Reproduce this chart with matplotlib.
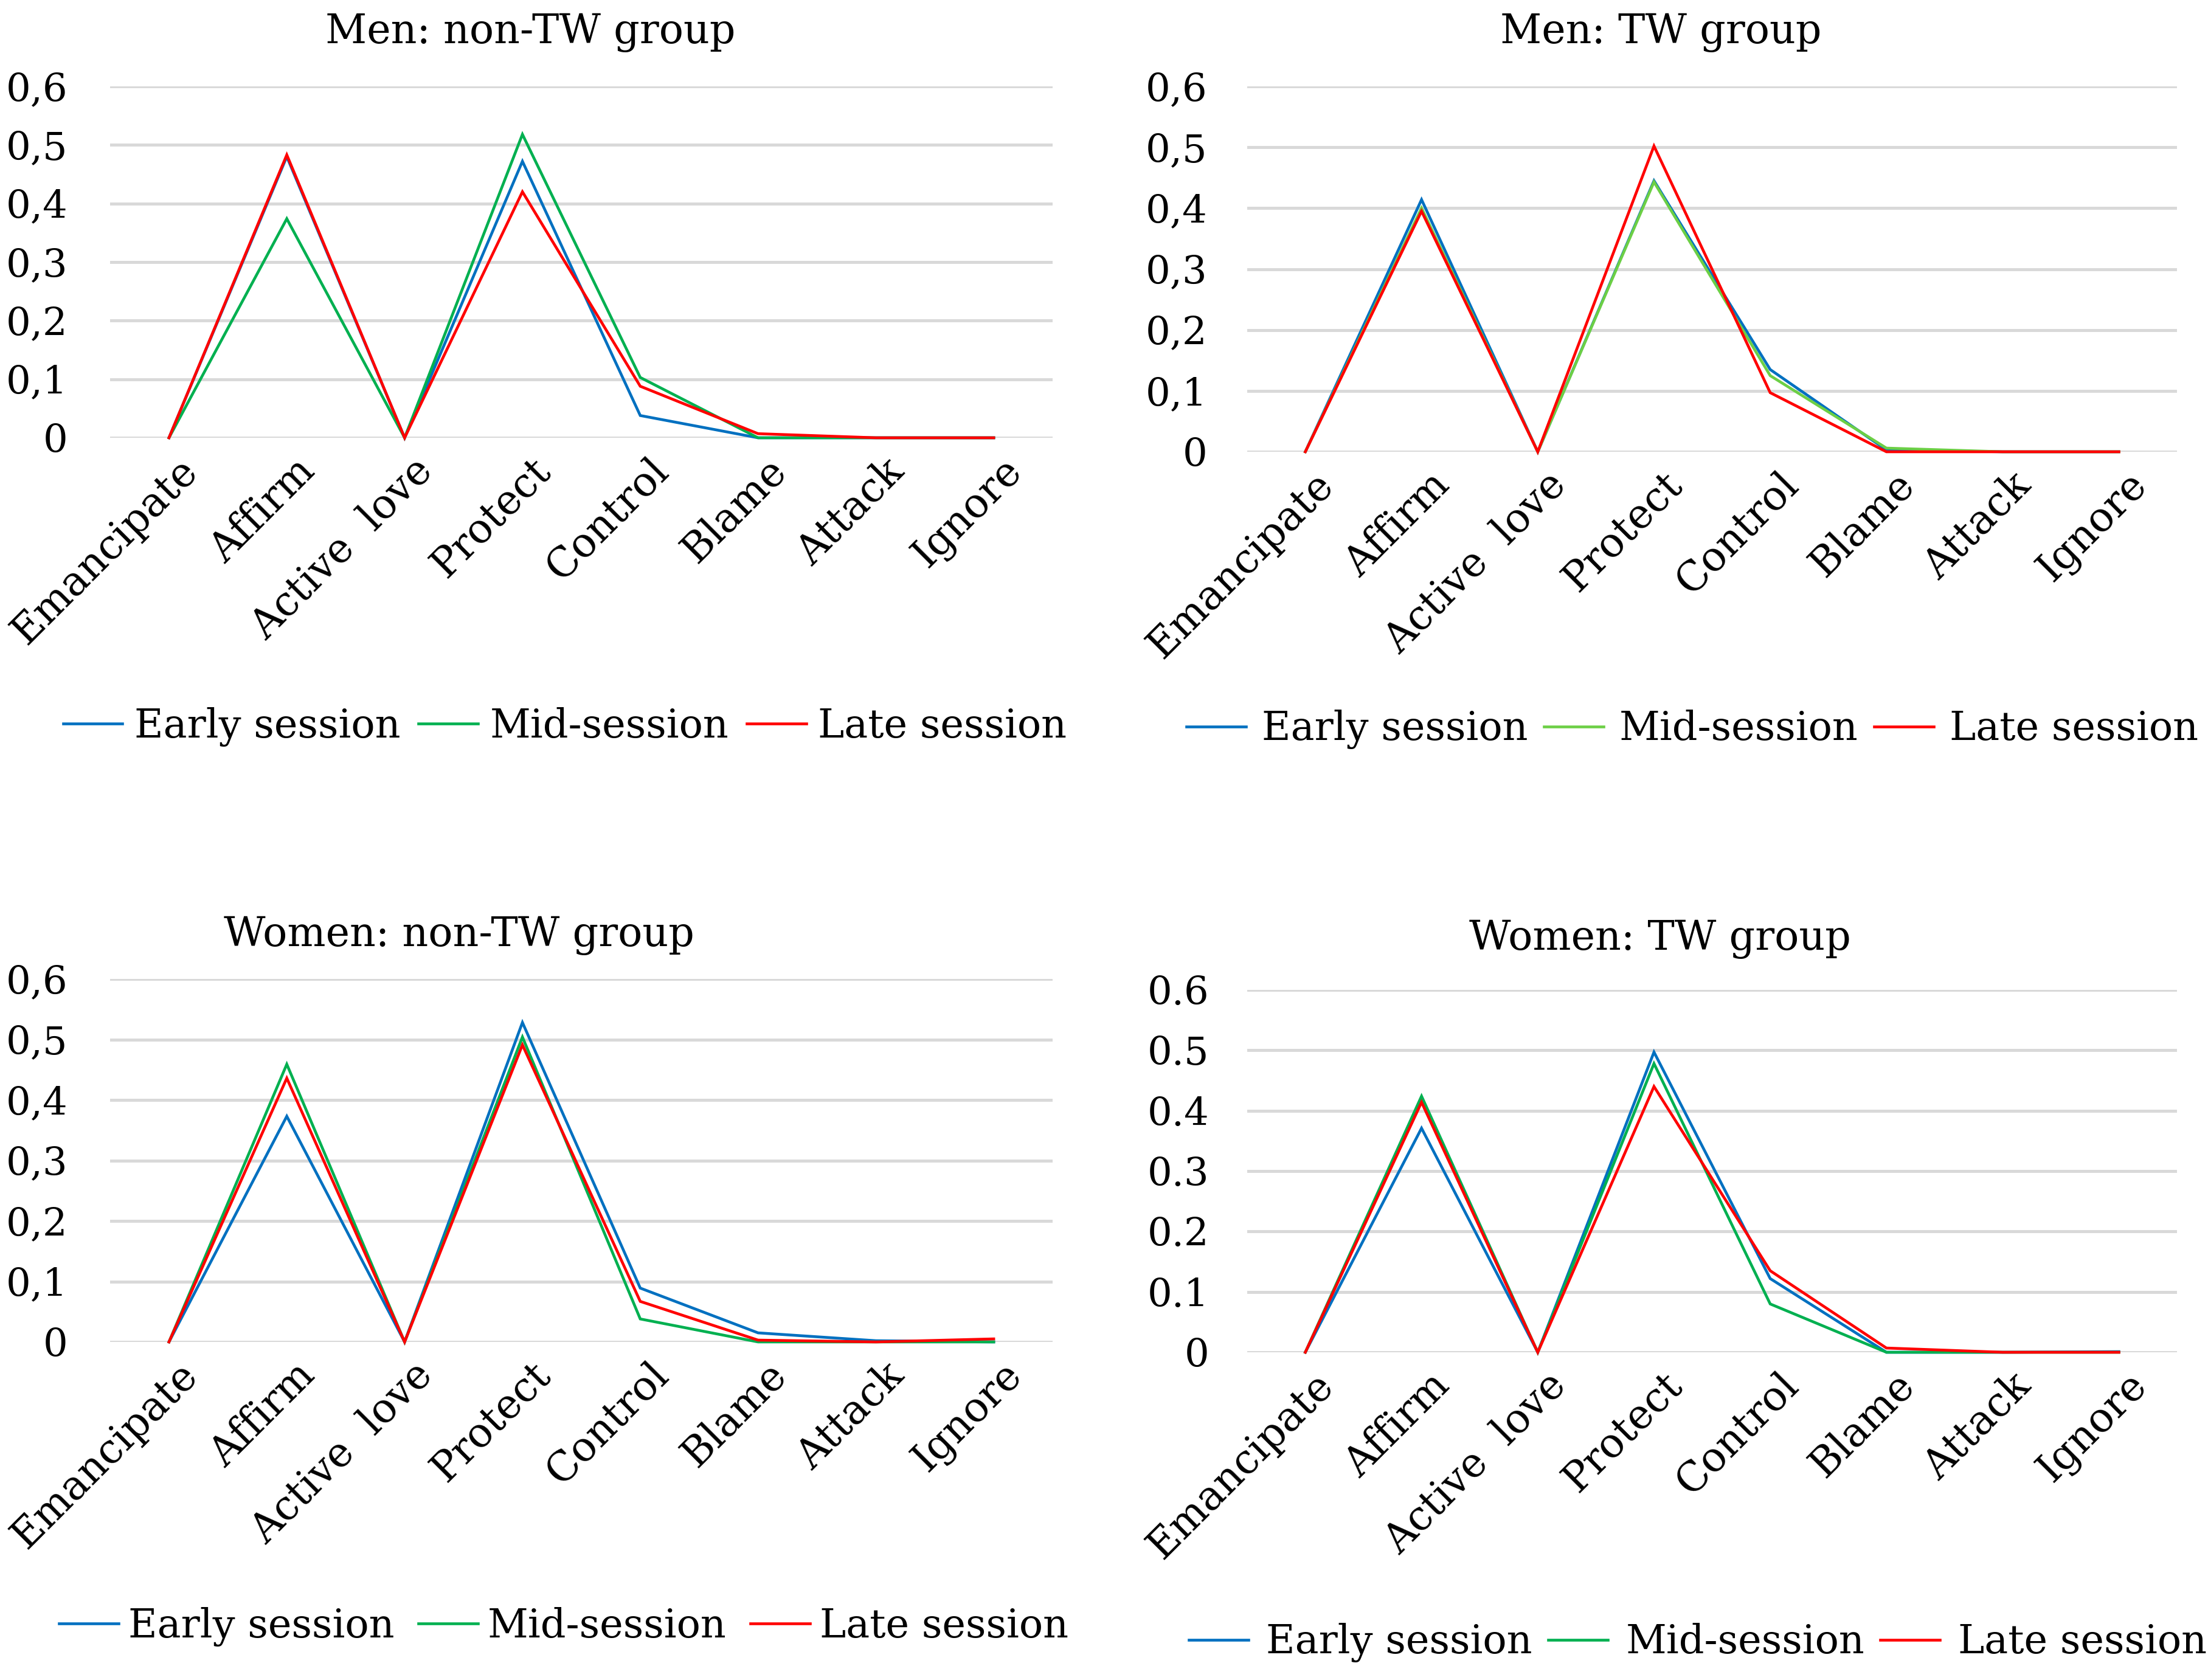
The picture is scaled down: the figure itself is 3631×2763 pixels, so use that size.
import matplotlib
matplotlib.use("Agg")
import matplotlib.pyplot as plt
import matplotlib.transforms as mtransforms

plt.rcParams['font.family'] = ['DejaVu Serif']

categories = ["Emancipate", "Affirm", "Active  love", "Protect", "Control", "Blame", "Attack", "Ignore"]
series_names = ["Early session", "Mid-session", "Late session"]
y_ticks = [0, 0.1, 0.2, 0.3, 0.4, 0.5, 0.6]

# Men: non-TW group
men_non_early = [0, 0.48, 0, 0.472, 0.038, 0, 0, 0]
men_non_mid = [0, 0.374, 0, 0.518, 0.103, 0, 0, 0]
men_non_late = [0, 0.483, 0, 0.42, 0.088, 0.007, 0, 0]

# Men: TW group
men_tw_early = [0, 0.414, 0, 0.445, 0.135, 0.003, 0, 0]
men_tw_mid = [0, 0.40, 0, 0.443, 0.125, 0.006, 0, 0]
men_tw_late = [0, 0.395, 0, 0.502, 0.097, 0, 0, 0]

# Women: non-TW group
women_non_early = [0, 0.373, 0, 0.528, 0.089, 0.015, 0.002, 0]
women_non_mid = [0, 0.459, 0, 0.504, 0.038, 0, 0, 0]
women_non_late = [0, 0.436, 0, 0.491, 0.067, 0.003, 0, 0.005]

# Women: TW group
women_tw_early = [0, 0.371, 0, 0.497, 0.122, 0, 0, 0.001]
women_tw_mid = [0, 0.424, 0, 0.478, 0.080, 0, 0, 0]
women_tw_late = [0, 0.414, 0, 0.440, 0.135, 0.007, 0, 0]

BLUE = "#0070C0"
GREEN = "#00B050"
LGREEN = "#6CCF45"
RED = "#FF0000"
GRID = "#D9D9D9"

W, H = 3631, 2763
fig = plt.figure(figsize=(W / 100, H / 100), dpi=100)
FS = 46
FS_T = 48

panels = [
    dict(title="Men: non-TW group", data=[men_non_early, men_non_mid, men_non_late],
         colors=[BLUE, GREEN, RED], box=(181, 142, 1731, 720), title_xy=(872, 71),
         pad=50, dec=",", leg=(929, 1195), leg_kw=dict(handletextpad=0.3, columnspacing=0.45)),
    dict(title="Men: TW group", data=[men_tw_early, men_tw_mid, men_tw_late],
         colors=[BLUE, LGREEN, RED], box=(2051, 142, 3580, 743), title_xy=(2731, 71),
         pad=47, dec=",", leg=(2783, 1200), leg_kw=dict(handletextpad=0.4, columnspacing=0.4)),
    dict(title="Women: non-TW group", data=[women_non_early, women_non_mid, women_non_late],
         colors=[BLUE, GREEN, RED], box=(181, 1610, 1731, 2207), title_xy=(755, 1556),
         pad=50, dec=",", leg=(927, 2675), leg_kw=dict(handletextpad=0.25, columnspacing=0.6)),
    dict(title="Women: TW group", data=[women_tw_early, women_tw_mid, women_tw_late],
         colors=[BLUE, GREEN, RED], box=(2051, 1628, 3580, 2224), title_xy=(2730, 1562),
         pad=45, dec=".", leg=(2792, 2702), leg_kw=dict(handletextpad=0.45, columnspacing=0.4)),
]

x = list(range(len(categories)))

for p in panels:
    l, t, r, b = p["box"]
    ax = fig.add_axes([l / W, 1 - b / H, (r - l) / W, (b - t) / H])
    handles = []
    for vals, col, name in zip(p["data"], p["colors"], series_names):
        ln, = ax.plot(x, vals, color=col, lw=3.3, solid_joinstyle="miter", label=name,
                      clip_on=False, zorder=3)
        handles.append(ln)
    ax.set_xlim(-0.5, len(categories) - 0.5)
    ax.set_ylim(0, 0.6)
    ax.set_yticks(y_ticks)
    ax.set_yticklabels([("0" if v == 0 else f"{v:.1f}".replace(".", p["dec"])) for v in y_ticks])
    ax.grid(axis="y", color=GRID, lw=3.6, zorder=0)
    ax.set_axisbelow(True)
    for s in ax.spines.values():
        s.set_visible(False)
    ax.tick_params(axis="y", length=0, pad=p["pad"], labelsize=FS)
    ax.tick_params(axis="x", length=0, labelsize=FS_T)
    ax.set_xticks(x)
    ax.set_xticklabels(categories, rotation=45, rotation_mode="anchor", ha="right", va="center")
    off = mtransforms.ScaledTranslation(0.36, -0.40, fig.dpi_scale_trans)
    for lab in ax.get_xticklabels():
        lab.set_transform(lab.get_transform() + off)
    fig.text(p["title_xy"][0] / W, 1 - p["title_xy"][1] / H, p["title"], ha="center",
             va="baseline", fontsize=FS_T)
    lx, ly = p["leg"]
    fig.legend(handles=handles, labels=series_names, loc="center", ncol=3,
               bbox_to_anchor=(lx / W, 1 - ly / H), frameon=False, fontsize=47,
               handlelength=1.5, borderaxespad=0, **p["leg_kw"])

fig.savefig("out.png", dpi=100, facecolor="white")
